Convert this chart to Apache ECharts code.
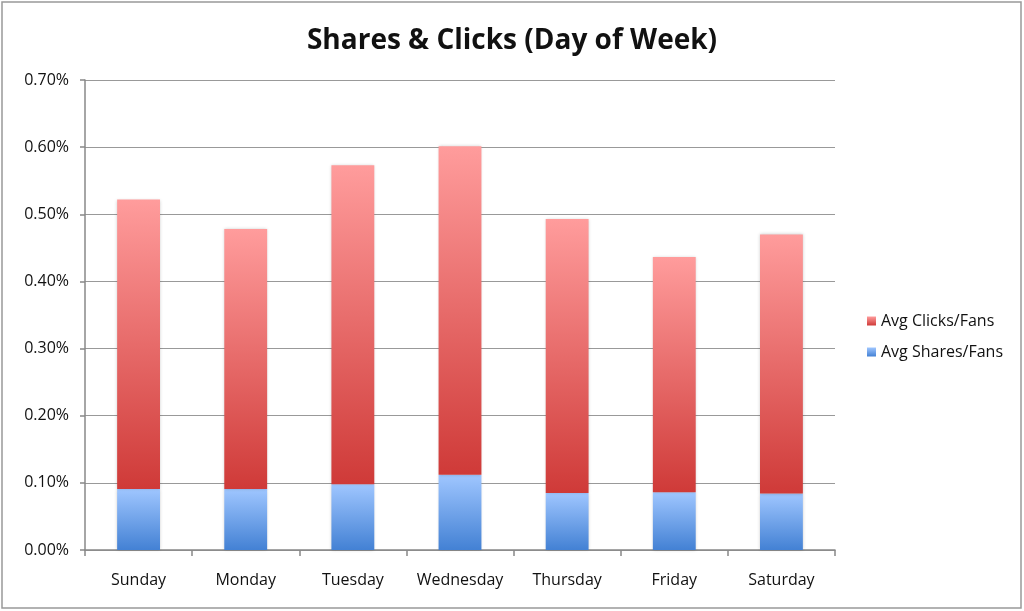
<!DOCTYPE html>
<html>
<head>
<meta charset="utf-8">
<script src="https://cdn.jsdelivr.net/npm/echarts@6/dist/echarts.min.js"></script>
<style>
html,body{margin:0;padding:0;background:#fff;}
#main{width:1024px;height:611px;}
</style>
</head>
<body>
<div id="main"></div>
<script>
// values in percent
var days = ['Sunday','Monday','Tuesday','Wednesday','Thursday','Friday','Saturday'];
var sharesFans = [0.091, 0.091, 0.098, 0.112, 0.085, 0.086, 0.084];
var clicksFans = [0.431, 0.387, 0.475, 0.4895, 0.408, 0.3505, 0.386];
var yTicks = [0, 0.1, 0.2, 0.3, 0.4, 0.5, 0.6, 0.7];

var font = '"Open Sans", "DejaVu Sans", sans-serif';

function grad(top, bottom){
	return new echarts.graphic.LinearGradient(0,0,0,1,[
		{offset:0, color:top},
		{offset:1, color:bottom}
	]);
}

var chart = echarts.init(document.getElementById('main'));
var option = {
	animation:false,
	title:{
		text:'Shares & Clicks (Day of Week)',
		left:'center',
		top:22,
		textStyle:{fontFamily:font, fontSize:28, fontWeight:'bold', color:'#111'}
	},
	legend:{
		data:['Avg Clicks/Fans','Avg Shares/Fans'],
		orient:'vertical',
		left:862,
		top:308,
		itemWidth:9,
		itemHeight:9,
		itemGap:15,
		icon:'rect',
		textStyle:{fontFamily:font, fontSize:16, color:'#111'}
	},
	grid:{left:85, right:189, top:80, bottom:61, containLabel:false},
	xAxis:[{
		type:'category',
		data:days,
		axisLine:{lineStyle:{color:'#888', width:1.5}},
		axisTick:{show:true, length:6, lineStyle:{color:'#888', width:1.5}},
		axisLabel:{fontFamily:font, fontSize:16, color:'#111', margin:22, interval:0}
	}],
	yAxis:[{
		type:'value',
		min:yTicks[0],
		max:yTicks[yTicks.length-1],
		interval:0.1,
		axisLine:{show:true, lineStyle:{color:'#888', width:1.5}},
		axisTick:{show:true, length:5, lineStyle:{color:'#888', width:1.5}},
		splitLine:{lineStyle:{color:'#999', width:1.2}},
		axisLabel:{
			fontFamily:font, fontSize:16, color:'#111', margin:16,
			formatter:function(v){ return v.toFixed(2)+'%'; }
		}
	}],
	series:[{
		name:'Avg Shares/Fans',
		type:'bar',
		stack:'total',
		barWidth:'40%',
		data:sharesFans,
		itemStyle:{color:grad('#9fc6ff','#4381d4'), shadowBlur:3, shadowColor:'rgba(0,0,0,0.2)'}
	},{
		name:'Avg Clicks/Fans',
		type:'bar',
		stack:'total',
		barWidth:'40%',
		data:clicksFans,
		itemStyle:{color:grad('#ff9c9c','#cf3a38'), shadowBlur:3, shadowColor:'rgba(0,0,0,0.2)'}
	}],
	graphic:[{
		type:'rect',
		shape:{x:2, y:2, width:1019, height:606},
		style:{fill:'none', stroke:'#999', lineWidth:1.5},
		silent:true
	}]
};
chart.setOption(option);
</script>
</body>
</html>
